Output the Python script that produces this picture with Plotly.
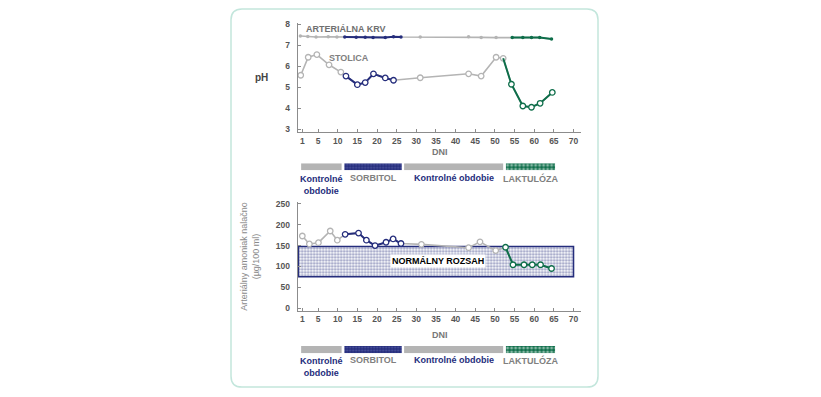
import plotly.graph_objects as go

W, H = 821, 397

# ---------------- data ----------------
day_ticks = [1, 5, 10, 15, 20, 25, 30, 35, 40, 45, 50, 55, 60, 65, 70]
ph_ticks = [3, 4, 5, 6, 7, 8]
nh3_ticks = [0, 50, 100, 150, 200, 250]

# arterial blood pH
blood_ctrl1_days = [0.5, 2.4, 4.5, 7.6, 9.8]
blood_ctrl1_ph = [7.45, 7.42, 7.40, 7.41, 7.40]
blood_sorb_days = [11.8, 14.7, 17.0, 19.0, 22.1, 24.2, 26.1]
blood_sorb_ph = [7.40, 7.39, 7.39, 7.38, 7.38, 7.41, 7.40]
blood_ctrl2_days = [31.0, 43.3, 46.5, 50.3]
blood_ctrl2_ph = [7.40, 7.41, 7.38, 7.37]
blood_lakt_days = [54.4, 57.1, 59.3, 61.4, 64.4]
blood_lakt_ph = [7.38, 7.38, 7.37, 7.37, 7.30]

# stool pH
stool_ctrl1_days = [0.6, 2.5, 4.7, 7.8, 10.8]
stool_ctrl1_ph = [5.57, 6.43, 6.56, 6.07, 5.72]
stool_sorb_days = [12.1, 15.0, 17.0, 19.1, 22.1, 24.2]
stool_sorb_ph = [5.53, 5.12, 5.22, 5.64, 5.44, 5.33]
stool_ctrl2_days = [31.0, 43.3, 46.5, 50.3, 52.1]
stool_ctrl2_ph = [5.45, 5.64, 5.53, 6.43, 6.38]
stool_lakt_days = [54.2, 57.1, 59.3, 61.5, 64.6]
stool_lakt_ph = [5.14, 4.10, 4.04, 4.23, 4.75]

# fasting arterial ammonia (ug/100 ml)
nh3_ctrl1_days = [1.0, 2.8, 5.1, 8.1, 9.9]
nh3_ctrl1 = [173, 154, 157, 185, 163]
nh3_sorb_days = [11.9, 15.3, 17.3, 19.5, 22.3, 24.1, 26.1]
nh3_sorb = [177, 180, 163, 150, 158, 166, 155]
nh3_ctrl2_days = [31.3, 43.3, 46.2, 50.2]
nh3_ctrl2 = [153, 145, 159, 138]
nh3_lakt_days = [52.7, 54.6, 57.4, 59.5, 61.6, 64.4]
nh3_lakt = [146, 104, 104, 104, 104, 95]

normal_low, normal_high = 75, 148
normal_from, normal_to = 0, 70

period_names = ["Kontrolné<br>obdobie", "SORBITOL", "Kontrolné obdobie", "LAKTULÓZA"]
period_start = [0.7, 11.7, 26.9, 52.8]
period_end = [11.0, 26.3, 52.1, 65.3]

# ---------------- styles ----------------
GRAY = "#b4b4b4"
NAVY = "#252d7c"
GREEN = "#0e6e4a"
AXIS = "#8c8c8c"
TXT = "#666666"
FONT = "Liberation Sans, Arial, sans-serif"


def px(x):
    return x / W


def py(y):
    return 1 - y / H


XDOM = [px(297.6), px(581.4)]
XRANGE = [-0.2, 72]

fig = go.Figure()

# normal range band (bottom)
fig.add_trace(go.Bar(
    x=[(normal_from + normal_to) / 2], y=[normal_high - normal_low], base=[normal_low],
    width=[normal_to - normal_from], xaxis="x2", yaxis="y2",
    marker=dict(color="white", line=dict(color=NAVY, width=1.5),
                pattern=dict(shape=".", fgcolor=NAVY, bgcolor="white", size=3, solidity=0.45)),
    hoverinfo="skip", showlegend=False))


def series(ax, ay, c1d, c1v, sd, sv, c2d, c2v, ld, lv, small, lakt_join):
    gd = c1d + sd + c2d + ld
    gv = c1v + sv + c2v + lv

    def m(color):
        if small:
            return dict(size=3.5, symbol="circle", color=color)
        return dict(size=5.5, symbol="circle", color="white", line=dict(width=1.3, color=color))

    fig.add_trace(go.Scatter(x=gd, y=gv, mode="lines", line=dict(color=GRAY, width=1.6),
                             xaxis=ax, yaxis=ay, showlegend=False, hoverinfo="skip"))
    fig.add_trace(go.Scatter(x=c1d, y=c1v, mode="markers", marker=m(GRAY),
                             xaxis=ax, yaxis=ay, showlegend=False))
    fig.add_trace(go.Scatter(x=c2d, y=c2v, mode="markers", marker=m(GRAY),
                             xaxis=ax, yaxis=ay, showlegend=False))
    fig.add_trace(go.Scatter(x=sd, y=sv, mode="lines+markers", line=dict(color=NAVY, width=2),
                             marker=m(NAVY), xaxis=ax, yaxis=ay, showlegend=False))
    lxd, lxv = (c2d[-1:] + ld, c2v[-1:] + lv) if lakt_join else (ld, lv)
    fig.add_trace(go.Scatter(x=lxd, y=lxv, mode="lines", line=dict(color=GREEN, width=2),
                             xaxis=ax, yaxis=ay, showlegend=False, hoverinfo="skip"))
    fig.add_trace(go.Scatter(x=ld, y=lv, mode="markers", marker=m(GREEN),
                             xaxis=ax, yaxis=ay, showlegend=False))


series("x", "y", blood_ctrl1_days, blood_ctrl1_ph, blood_sorb_days, blood_sorb_ph,
       blood_ctrl2_days, blood_ctrl2_ph, blood_lakt_days, blood_lakt_ph, True, False)
series("x", "y", stool_ctrl1_days, stool_ctrl1_ph, stool_sorb_days, stool_sorb_ph,
       stool_ctrl2_days, stool_ctrl2_ph, stool_lakt_days, stool_lakt_ph, False, True)
series("x2", "y2", nh3_ctrl1_days, nh3_ctrl1, nh3_sorb_days, nh3_sorb,
       nh3_ctrl2_days, nh3_ctrl2, nh3_lakt_days, nh3_lakt, False, False)

# period bars
bar_colors = [GRAY, NAVY, GRAY, GREEN]
bar_patterns = [dict(shape=""),
                dict(shape=".", fgcolor="#7a82c4", bgcolor=NAVY, size=3, solidity=0.3),
                dict(shape=""),
                dict(shape=".", fgcolor="white", bgcolor=GREEN, size=4, solidity=0.45)]
for ax, ay in [("x3", "y3"), ("x4", "y4")]:
    for s, e, c, p in zip(period_start, period_end, bar_colors, bar_patterns):
        fig.add_trace(go.Bar(x=[e - s], y=[0], base=[s], orientation="h", width=[1],
                             marker=dict(color=c, line=dict(width=0), pattern=p),
                             xaxis=ax, yaxis=ay, showlegend=False, hoverinfo="skip"))

tickfont = dict(family=FONT, size=8.5, color="#555555", weight="bold")
xcommon = dict(range=XRANGE, domain=XDOM, tickvals=day_ticks, ticks="inside", ticklen=3,
               tickcolor=AXIS, showline=True, linecolor=AXIS, linewidth=1, showgrid=False,
               zeroline=False, tickfont=tickfont, fixedrange=True)
ycommon = dict(ticks="inside", ticklen=3, tickcolor=AXIS, showline=True, linecolor=AXIS,
               linewidth=1, showgrid=False, zeroline=False, tickfont=tickfont, fixedrange=True,
               ticklabelstandoff=5)
hidden = dict(visible=False, fixedrange=True)

fig.update_layout(
    width=W, height=H, margin=dict(l=0, r=0, t=0, b=0),
    paper_bgcolor="white", plot_bgcolor="rgba(0,0,0,0)",
    font=dict(family=FONT), barmode="overlay", showlegend=False,
    xaxis=dict(**xcommon, anchor="y"),
    yaxis=dict(**ycommon, anchor="x", range=[2.84, 8.08], tickvals=ph_ticks,
               domain=[py(131), py(20)]),
    xaxis2=dict(**xcommon, anchor="y2"),
    yaxis2=dict(**ycommon, anchor="x2", range=[-6, 255], tickvals=nh3_ticks,
                domain=[py(311.5), py(201.4)]),
    xaxis3=dict(**hidden, range=XRANGE, domain=XDOM, anchor="y3"),
    yaxis3=dict(**hidden, range=[-0.5, 0.5], domain=[py(169.3), py(162.3)], anchor="x3"),
    xaxis4=dict(**hidden, range=XRANGE, domain=XDOM, anchor="y4"),
    yaxis4=dict(**hidden, range=[-0.5, 0.5], domain=[py(354.7), py(347.3)], anchor="x4"),
)

# rounded frame
x0, x1, y0, y1, r = 231, 598, 6, 389, 11
rx, ry = r / W, r / H
X0, X1, Y0, Y1 = px(x0), px(x1), py(y0), py(y1)
path = (f"M {X0+rx},{Y0} L {X1-rx},{Y0} Q {X1},{Y0} {X1},{Y0-ry} "
        f"L {X1},{Y1+ry} Q {X1},{Y1} {X1-rx},{Y1} L {X0+rx},{Y1} Q {X0},{Y1} {X0},{Y1+ry} "
        f"L {X0},{Y0-ry} Q {X0},{Y0} {X0+rx},{Y0} Z")
fig.add_shape(type="path", path=path, xref="paper", yref="paper",
              line=dict(color="#c3e6dc", width=1.5), fillcolor="rgba(0,0,0,0)", layer="below")


def ann(text, x, y, color=TXT, size=10, bold=True, **kw):
    fig.add_annotation(text=text, x=px(x), y=py(y), xref="paper", yref="paper",
                       showarrow=False, xanchor="center", yanchor="middle",
                       font=dict(family=FONT, size=size, color=color,
                                 weight="bold" if bold else "normal"), **kw)


ann("ARTERIÁLNA KRV", 345.5, 26.5, color="#707070", size=9)
ann("STOLICA", 349, 55.5, color="#808080", size=9)
ann("pH", 261, 75, color="#444444", size=10)
ann("DNI", 440, 151, color="#777777", size=9)
ann("DNI", 440, 336, color="#777777", size=9)
ann("Arteriálny amoniak nalačno<br>(µg/100 ml)", 250, 257, color="#8a8a8a", size=9,
    bold=False, textangle=-90)

# period labels
label_colors = [NAVY, "#808080", NAVY, "#808080"]
for (yt, yk) in [(177.5, 184.3), (362, 368.8)]:
    for name, s, e, c in zip(period_names, period_start, period_end, label_colors):
        fig.add_annotation(text=name, x=(s + e) / 2, xref="x", y=py(yk if "<br>" in name else yt),
                           yref="paper", showarrow=False, xanchor="center", yanchor="middle",
                           font=dict(family=FONT, size=9, color=c, weight="bold"))

fig.add_annotation(text="NORMÁLNY ROZSAH", x=(normal_from + normal_to) / 2 + 0.6,
                   y=(normal_low + normal_high) / 2 + 2, xref="x2", yref="y2",
                   showarrow=False, bgcolor="white",
                   font=dict(family=FONT, size=9, color="black", weight="bold"))

fig.write_html("out.html", config={"displayModeBar": False},
               post_script="document.body.style.margin='0';document.body.style.overflow='hidden';")
